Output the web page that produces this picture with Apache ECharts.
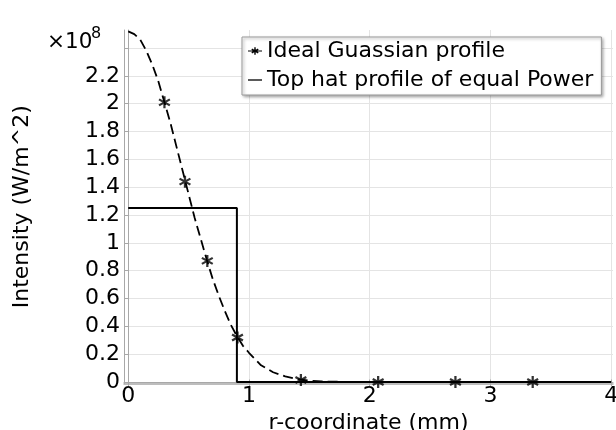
<!DOCTYPE html>
<html>
<head>
<meta charset="utf-8">
<script src="https://cdn.jsdelivr.net/npm/echarts@6/dist/echarts.min.js"></script>
<style>
  html, body { margin: 0; padding: 0; background: #fff; }
  #chart { width: 616px; height: 430px; }
</style>
</head>
<body>
<div id="chart"></div>
<script>
// values, intensity in units of 1e8 W/m^2
const gaussR = [0, 0.05, 0.1, 0.15, 0.2, 0.25, 0.3, 0.35, 0.4, 0.45, 0.5, 0.55, 0.6, 0.65, 0.7, 0.75, 0.8, 0.85, 0.9, 0.95, 1.0, 1.1, 1.2, 1.3, 1.4, 1.5, 1.6, 1.7, 1.8, 2.0, 4.0]
const gaussI = [2.52, 2.50, 2.46, 2.38, 2.28, 2.16, 2.01, 1.86, 1.69, 1.52, 1.35, 1.18, 1.03, 0.88, 0.74, 0.62, 0.51, 0.41, 0.33, 0.26, 0.21, 0.12, 0.07, 0.04, 0.02, 0.009, 0.004, 0.002, 0.001, 0, 0]
const markerR = [0.3, 0.47, 0.655, 0.905, 1.43, 2.07, 2.71, 3.35]
const markerI = [2.01, 1.44, 0.87, 0.32, 0.014, 0, 0, 0]
const hatR = [0, 0.9, 0.9, 4.0]
const hatI = [1.25, 1.25, 0, 0]
const xTicks = [0, 1, 2, 3, 4]
const yTicks = [0, 0.2, 0.4, 0.6, 0.8, 1, 1.2, 1.4, 1.6, 1.8, 2, 2.2, 2.4]
const yLabels = [0, 0.2, 0.4, 0.6, 0.8, 1, 1.2, 1.4, 1.6, 1.8, 2, 2.2]
const seriesNames = ['Ideal Guassian profile', 'Top hat profile of equal Power']

const FONT = 'DejaVu Sans'
const FRAME = '#a8a8a8'
// asterisk made of three bars (same winding so the centre stays filled)
const STAR = 'M-0.9,-5L0.9,-5L0.9,5L-0.9,5Z' +
  'M-4.78,-1.72L-3.88,-3.28L4.78,1.72L3.88,3.28Z' +
  'M-3.88,3.28L-4.78,1.72L3.88,-3.28L4.78,-1.72Z'
const ICON_STAR = 'path://M-7,-0.6L7,-0.6L7,0.6L-7,0.6Z' +
  'M-0.7,-3.8L0.7,-3.8L0.7,3.8L-0.7,3.8Z' +
  'M-3.6,-1.3L-2.9,-2.5L3.6,1.3L2.9,2.5Z' +
  'M-2.9,2.5L-3.6,1.3L2.9,-2.5L3.6,-1.3Z'
const ICON_LINE = 'path://M0,0L14,0L14,1.3L0,1.3Z'

const pairs = (xs, ys) => xs.map((x, i) => [x, ys[i]])

const frameAxis = {
  axisLine: { show: true, lineStyle: { color: FRAME, width: 1 } },
  axisLabel: { show: false },
  splitLine: { show: false }
}

const chart = echarts.init(document.getElementById('chart'), null, { renderer: 'canvas' })
chart.setOption({
  animation: false,
  backgroundColor: '#fff',
  textStyle: { fontFamily: FONT, color: '#000' },
  grid: { left: 124, right: 3, top: 30, bottom: 46.5, containLabel: false, outerBoundsMode: 'none' },
  legend: {
    orient: 'vertical',
    left: 242,
    top: 37,
    padding: [3, 8, 4, 6],
    itemWidth: 14,
    itemHeight: 8,
    itemGap: 7,
    backgroundColor: '#fff',
    borderColor: '#999',
    borderWidth: 1,
    borderRadius: 0,
    shadowColor: 'rgba(0,0,0,0.35)',
    shadowBlur: 3,
    shadowOffsetX: 1.5,
    shadowOffsetY: 1.5,
    textStyle: { fontFamily: FONT, fontSize: 22, lineHeight: 22, color: '#000' },
    selectedMode: false,
    data: [
      { name: seriesNames[0], icon: ICON_STAR },
      { name: seriesNames[1], icon: ICON_LINE }
    ]
  },
  graphic: [
    { type: 'text', left: 47, top: 31, style: { text: '×10', font: '21.5px "DejaVu Sans"', fill: '#000' } },
    { type: 'text', left: 91, top: 26, style: { text: '8', font: '16px "DejaVu Sans"', fill: '#000' } }
  ],
  xAxis: [{
    type: 'value',
    min: -0.035,
    max: 4.015,
    name: 'r-coordinate (mm)',
    nameLocation: 'middle',
    nameGap: 12,
    nameTextStyle: { fontFamily: FONT, fontSize: 22, color: '#000' },
    axisLine: { show: true, onZero: false, lineStyle: { color: FRAME, width: 1.5 } },
    axisTick: { show: true, inside: true, length: 4, customValues: xTicks, lineStyle: { color: FRAME } },
    axisLabel: { customValues: xTicks, fontFamily: FONT, fontSize: 22, color: '#000', margin: 2 },
    splitLine: { show: true, lineStyle: { color: '#e4e4e4', width: 1 } }
  }, Object.assign({
    type: 'value', position: 'top', min: -0.035, max: 4.015,
    axisTick: { show: true, inside: true, length: 4, customValues: xTicks, lineStyle: { color: FRAME } }
  }, frameAxis)],
  yAxis: [{
    type: 'value',
    min: -0.011,
    max: 2.53,
    name: 'Intensity (W/m^2)',
    nameLocation: 'middle',
    nameGap: 91,
    nameTextStyle: { fontFamily: FONT, fontSize: 22, color: '#000' },
    axisLine: { show: true, onZero: false, lineStyle: { color: FRAME, width: 1 } },
    axisTick: { show: true, inside: true, length: 4, customValues: yTicks, lineStyle: { color: FRAME } },
    axisLabel: { customValues: yLabels, fontFamily: FONT, fontSize: 22, color: '#000', margin: 4 },
    splitLine: { show: true, lineStyle: { color: '#e4e4e4', width: 1 } }
  }, Object.assign({
    type: 'value', position: 'right', min: -0.011, max: 2.53,
    axisTick: { show: true, inside: true, length: 4, customValues: yTicks, lineStyle: { color: FRAME } }
  }, frameAxis)],
  series: [
    {
      name: seriesNames[0],
      type: 'line',
      data: pairs(gaussR, gaussI),
      showSymbol: false,
      symbol: 'none',
      color: '#000',
      lineStyle: { color: '#000', width: 1.8, type: [10, 5] },
      z: 3
    },
    {
      name: seriesNames[0],
      type: 'scatter',
      data: pairs(markerR, markerI),
      symbol: 'path://' + STAR,
      symbolSize: [12, 12],
      color: '#000',
      itemStyle: { color: '#000' },
      z: 4
    },
    {
      name: seriesNames[1],
      type: 'line',
      data: pairs(hatR, hatI),
      showSymbol: false,
      symbol: 'none',
      color: '#000',
      lineStyle: { color: '#000', width: 2 },
      z: 2
    }
  ]
})
</script>
</body>
</html>
